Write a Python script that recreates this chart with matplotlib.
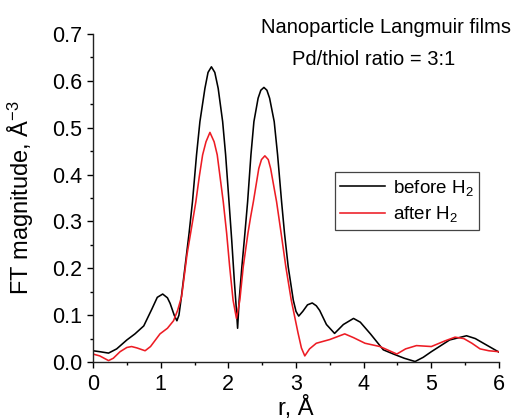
import numpy as np
import matplotlib
matplotlib.use('Agg')
import matplotlib.pyplot as plt
from matplotlib.ticker import MultipleLocator


plt.rcParams['font.family'] = ['Liberation Sans', 'DejaVu Sans']
plt.rcParams['mathtext.fontset'] = 'custom'
plt.rcParams['mathtext.rm'] = 'Liberation Sans'
plt.rcParams['mathtext.it'] = 'Liberation Sans:italic'

# values
r_before = [0.00, 0.10, 0.23, 0.35, 0.50, 0.62, 0.75, 0.87, 0.95, 1.03, 1.10, 1.14,
            1.20, 1.24, 1.27, 1.30, 1.36, 1.42, 1.47, 1.53, 1.58, 1.654, 1.70, 1.75,
            1.80, 1.85, 1.916, 1.96, 2.01, 2.05, 2.09, 2.12, 2.137, 2.16,
            2.20, 2.245, 2.285, 2.334, 2.378, 2.44, 2.48, 2.526, 2.57, 2.61, 2.678, 2.728,
            2.787, 2.83, 2.885, 2.96, 3.00, 3.04, 3.10, 3.17, 3.24, 3.30, 3.35, 3.45,
            3.57, 3.70, 3.85, 3.95, 4.10, 4.29, 4.44, 4.60, 4.76, 4.88, 5.00, 5.27,
            5.52, 5.65, 5.77, 6.00]
ft_before = [0.024, 0.022, 0.019, 0.028, 0.047, 0.060, 0.077, 0.113, 0.138, 0.145, 0.137, 0.125,
             0.100, 0.088, 0.100, 0.132, 0.203, 0.275, 0.342, 0.442, 0.513, 0.584, 0.618, 0.630,
             0.618, 0.584, 0.513, 0.442, 0.342, 0.260, 0.170, 0.110, 0.072, 0.132,
             0.203, 0.275, 0.342, 0.442, 0.513, 0.563, 0.580, 0.586, 0.580, 0.563, 0.513, 0.442,
             0.342, 0.275, 0.203, 0.132, 0.108, 0.098, 0.108, 0.122, 0.126, 0.120, 0.110, 0.080,
             0.061, 0.080, 0.093, 0.085, 0.060, 0.026, 0.017, 0.008, 0.001, 0.010, 0.022, 0.047,
             0.056, 0.050, 0.040, 0.021]

r_after = [0.00, 0.10, 0.23, 0.30, 0.40, 0.50, 0.57, 0.65, 0.77, 0.85, 0.99, 1.10,
           1.19, 1.25, 1.31, 1.39, 1.46, 1.52, 1.57, 1.62, 1.67, 1.728, 1.79, 1.836,
           1.925, 1.975, 2.02, 2.07, 2.12, 2.17, 2.22, 2.29, 2.33, 2.37, 2.45, 2.49,
           2.54, 2.59, 2.625, 2.713, 2.78, 2.85, 2.93, 3.03, 3.08, 3.13, 3.20, 3.30,
           3.50, 3.72, 3.85, 4.02, 4.24, 4.35, 4.49, 4.62, 4.78, 5.00, 5.20, 5.35,
           5.48, 5.60, 5.72, 5.85, 6.00]
ft_after = [0.017, 0.013, 0.003, 0.008, 0.022, 0.031, 0.033, 0.030, 0.024, 0.033, 0.060, 0.072,
            0.088, 0.110, 0.140, 0.230, 0.290, 0.342, 0.395, 0.442, 0.470, 0.490, 0.470, 0.442,
            0.342, 0.275, 0.203, 0.132, 0.093, 0.132, 0.203, 0.275, 0.310, 0.342, 0.413, 0.432,
            0.440, 0.432, 0.413, 0.342, 0.275, 0.203, 0.132, 0.062, 0.030, 0.013, 0.028, 0.040,
            0.048, 0.060, 0.052, 0.040, 0.033, 0.026, 0.017, 0.028, 0.035, 0.033, 0.045, 0.053,
            0.050, 0.040, 0.028, 0.024, 0.022]

labels = ['before H$_2$', 'after H$_2$']
title_lines = ['Nanoparticle Langmuir films', 'Pd/thiol ratio = 3:1']


fig = plt.figure(figsize=(5.13, 4.19), dpi=100)
ax = fig.add_axes([93/513, 1 - 362/419, 406/513, 328/419])

ax.plot(r_before, ft_before, color='black', lw=1.15, label=labels[0])
ax.plot(r_after, ft_after, color='#ed1c24', lw=1.15, label=labels[1])

ax.set_xlim(0, 6)
ax.set_ylim(0, 0.7)
ax.xaxis.set_major_locator(MultipleLocator(1))
ax.xaxis.set_minor_locator(MultipleLocator(0.5))
ax.yaxis.set_major_locator(MultipleLocator(0.1))
ax.yaxis.set_minor_locator(MultipleLocator(0.05))
ax.yaxis.set_major_formatter(plt.FormatStrFormatter('%.1f'))

for side in ['top', 'right']:
    ax.spines[side].set_visible(False)
for side in ['left', 'bottom']:
    ax.spines[side].set_linewidth(1.0)
    ax.spines[side].set_color('#222222')

ax.tick_params(which='major', direction='out', length=4.5, width=1.0, labelsize=15.5, pad=3)
ax.tick_params(which='minor', direction='out', length=2.3, width=1.0)
ax.tick_params(axis='x', which='major', pad=4)

ax.set_xlabel('r, Å', fontsize=17, labelpad=1)
ax.set_ylabel('FT magnitude, Å$^{-3}$', fontsize=17)
ax.yaxis.set_label_coords(-0.14, 0.5)

leg = ax.legend(loc='upper right', bbox_to_anchor=(0.951, 0.579), fontsize=13.5,
                frameon=True, fancybox=False, framealpha=1, edgecolor='#444444',
                handlelength=2.4, handletextpad=0.4, borderpad=0.3, labelspacing=0.35,
                borderaxespad=0)
leg.get_frame().set_linewidth(0.9)

fig.text(386/513, 1 - 33/419, title_lines[0], ha='center', va='baseline', fontsize=14.5)
fig.text(374/513, 1 - 65/419, title_lines[1], ha='center', va='baseline', fontsize=14.5)

fig.savefig('out.png', dpi=100)
